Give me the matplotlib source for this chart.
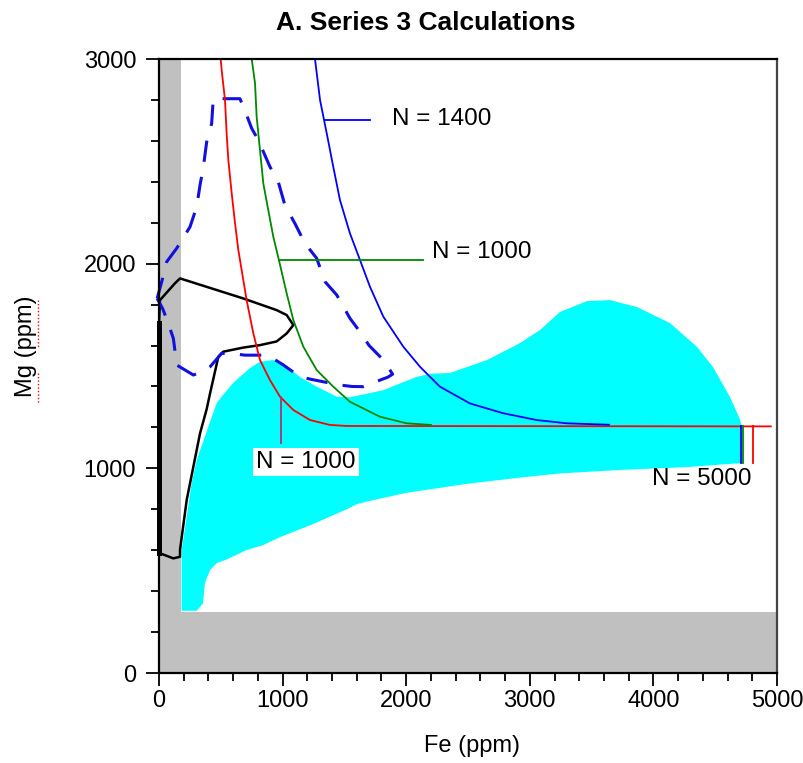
import matplotlib
matplotlib.use('Agg')
import matplotlib.pyplot as plt
from matplotlib.lines import Line2D
from matplotlib.ticker import MultipleLocator

plt.rcParams['font.family'] = ['Liberation Sans', 'DejaVu Sans']

# ---------------- data ----------------
title = 'A. Series 3 Calculations'
x_label = 'Fe (ppm)'
y_label = 'Mg (ppm)'
x_ticks = [0, 1000, 2000, 3000, 4000, 5000]
y_ticks = [0, 1000, 2000, 3000]

gray_fe_band = [0, 180]
gray_mg_band = [0, 300]

cyan_fe = [183, 305, 356, 372, 413, 467, 548, 709, 842, 979, 1248, 1518, 1600, 1700, 1788,
           2000, 2500, 3000, 3244, 3730, 4272, 4714, 4714, 4700,
           4620, 4482, 4353, 4134, 3867, 3649, 3463, 3244, 3083, 2921, 2654, 2354,
           2193, 2085, 1815, 1545, 1438, 1276, 1141, 1003, 922, 817, 736, 600,
           520, 467, 399, 305, 264, 224, 183]
cyan_mg = [304, 304, 340, 440, 503, 537, 555, 601, 625, 664, 728, 800, 825, 840, 852,
           880, 925, 960, 975, 992, 1006, 1026, 1205, 1240,
           1348, 1495, 1593, 1710, 1788, 1822, 1817, 1764, 1676, 1612, 1529, 1466,
           1462, 1447, 1382, 1347, 1350, 1399, 1446, 1514, 1529, 1521, 1490, 1417,
           1360, 1319, 1204, 1040, 928, 764, 600]

black_fe = [0, 0, 8, 129, 170, 682, 952, 1033, 1087, 1033, 952, 817, 682, 520, 480,
            413, 386, 332, 278, 224, 170, 170, 116, 8, 0]
black_mg = [585, 1710, 1822, 1904, 1928, 1830, 1773, 1749, 1700, 1659, 1620, 1602, 1590,
            1570, 1545, 1366, 1290, 1171, 1008, 845, 601, 568, 560, 585, 585]

dash_fe = [-15, 30, 62, 143, 200, 251, 305, 332, 359, 386, 426, 439, 655, 700, 750, 803,
           898, 965, 1019, 1100, 1181, 1276, 1343, 1438, 1545, 1626, 1700, 1788, 1842,
           1890, 1850, 1788, 1653, 1560, 1464, 1329, 1230, 1141, 1006, 940, 871, 696,
           600, 507, 413, 340, 278, 143, 130, 116, 75, 30, -15]
dash_mg = [1830, 1930, 2009, 2075, 2130, 2180, 2278, 2384, 2473, 2596, 2685, 2806, 2806,
           2740, 2661, 2604, 2473, 2400, 2285, 2196, 2099, 2026, 1912, 1847, 1733, 1667,
           1600, 1546, 1505, 1460, 1445, 1431, 1399, 1400, 1407, 1423, 1435, 1447, 1505,
           1530, 1553, 1553, 1560, 1562, 1496, 1470, 1456, 1505, 1570, 1635, 1708, 1780,
           1830]

red_fe = [499, 507, 534, 547, 561, 588, 615, 642, 709, 763, 817, 898, 979, 1087, 1222,
          1383, 1518, 4950]
red_mg = [3000, 2946, 2799, 2638, 2506, 2345, 2198, 2066, 1822, 1660, 1529, 1431, 1350,
          1285, 1236, 1212, 1207, 1205]

green_fe = [750, 777, 790, 817, 844, 884, 925, 970, 1033, 1087, 1168, 1276, 1410, 1545,
            1788, 2004, 2200]
green_mg = [3000, 2881, 2718, 2555, 2392, 2262, 2131, 2018, 1855, 1724, 1594, 1480, 1399,
            1325, 1252, 1220, 1212]

blue_fe = [1262, 1303, 1357, 1410, 1464, 1545, 1626, 1707, 1815, 1977, 2112, 2193, 2273,
           2516, 2786, 3056, 3298, 3640]
blue_mg = [3000, 2799, 2637, 2473, 2311, 2148, 2018, 1887, 1741, 1594, 1496, 1447, 1399,
           1317, 1269, 1236, 1220, 1213]

n5000_fe = [4709, 4725, 4806]          # blue, green, red end markers
n5000_mg = [1205, 1025]

lbl1400_line_fe = [1340, 1707]
lbl1400_mg = 2701
lbl1400_text = (1882, 2706)
lblg1000_line_fe = [970, 2139]
lblg1000_mg = 2018
lblg1000_text = (2209, 2057)
lblr1000_fe = 984
lblr1000_line_mg = [1350, 1122]
lblr1000_text = (1189, 1032)
lbl5000_text = (4391, 948)

# ---------------- figure ----------------
W, H = 804, 763
fig = plt.figure(figsize=(W / 100, H / 100), dpi=100)
ax = fig.add_axes([159 / W, 1 - 673 / H, (777 - 159) / W, (673 - 59) / H])
ax.set_xlim(0, 5000)
ax.set_ylim(0, 3000)

gray = '#c0c0c0'
ax.axvspan(gray_fe_band[0], gray_fe_band[1], color=gray, lw=0, zorder=1)
ax.axhspan(gray_mg_band[0], gray_mg_band[1], color=gray, lw=0, zorder=1)
ax.fill(cyan_fe, cyan_mg, color='#00ffff', lw=0, zorder=2)

ax.plot(black_fe, black_mg, color='black', lw=1.8, zorder=3, solid_joinstyle='round')
ax.plot(black_fe[:2], black_mg[:2], color='black', lw=3.6, zorder=3, clip_on=False)
ax.plot(dash_fe, dash_mg, color='#1010e0', lw=2.2, dashes=(7, 5), zorder=4, clip_on=False)

ax.plot(red_fe, red_mg, color='#ff0000', lw=1.3, zorder=5)
ax.plot(green_fe, green_mg, color='#008800', lw=1.3, zorder=6)
ax.plot(blue_fe, blue_mg, color='#0000ff', lw=1.3, zorder=6)

for fe, c in zip(n5000_fe, ['#0000ff', '#008800', '#ff0000']):
    ax.plot([fe, fe], n5000_mg, color=c, lw=1.3, zorder=6)

fs = 17.5
ax.plot(lbl1400_line_fe, [lbl1400_mg] * 2, color='#0000ff', lw=1.3, zorder=6)
ax.text(*lbl1400_text, 'N = 1400', fontsize=fs, ha='left', va='center', zorder=7)
ax.plot(lblg1000_line_fe, [lblg1000_mg] * 2, color='#008800', lw=1.3, zorder=6)
ax.text(*lblg1000_text, 'N = 1000', fontsize=fs, ha='left', va='center', zorder=7)
ax.plot([lblr1000_fe] * 2, lblr1000_line_mg, color='#b0307a', lw=1.3, zorder=6)
ax.text(*lblr1000_text, 'N = 1000', fontsize=fs, ha='center', va='center', zorder=7,
        bbox=dict(boxstyle='square,pad=0.12', fc='white', ec='none'))
ax.text(*lbl5000_text, 'N = 5000', fontsize=fs, ha='center', va='center', zorder=7)

# axes styling
ax.set_xticks(x_ticks)
ax.set_yticks(y_ticks)
ax.xaxis.set_minor_locator(MultipleLocator(200))
ax.yaxis.set_minor_locator(MultipleLocator(200))
ax.tick_params(which='major', direction='out', length=9.5, width=1.3, labelsize=17,
               colors='black')
ax.tick_params(which='minor', direction='out', length=5.5, width=1.3)
ax.tick_params(axis='x', pad=3)
ax.tick_params(axis='y', pad=7)
for s in ['left', 'bottom', 'top']:
    ax.spines[s].set_linewidth(1.6)
    ax.spines[s].set_color('black')
ax.spines['right'].set_linewidth(1.6)
ax.spines['right'].set_color('#444444')
for s in ax.spines.values():
    s.set_zorder(10)

fig.text(426 / W, 1 - 23 / H, title, fontsize=19, fontweight='bold', ha='center', va='center')
fig.text(472 / W, 1 - 746 / H, x_label, fontsize=17, ha='center', va='center')
fig.text(26 / W, 1 - 346 / H, y_label, fontsize=17, rotation=90, ha='center', va='center')

# red dotted spell-check underline under "Mg" and "ppm"
for y0, y1 in [(373, 403), (300, 348)]:
    fig.add_artist(Line2D([38 / W, 38 / W], [1 - y0 / H, 1 - y1 / H], color='red',
                          lw=1.0, ls=(0, (1, 1.5)), transform=fig.transFigure))

fig.savefig('out.png', dpi=100)
